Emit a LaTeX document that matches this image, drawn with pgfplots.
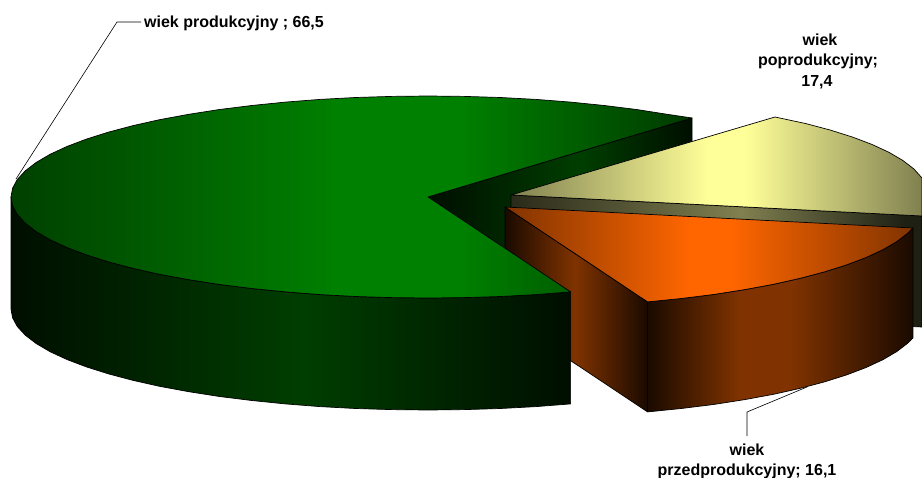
\documentclass[border=0pt]{standalone}
\usepackage{fontspec}
\setmainfont{Liberation Sans}
\usepackage{pgfplots}
\pgfplotsset{compat=1.18}
\definecolor{gA}{RGB}{0,64,0}
\definecolor{gB}{RGB}{0,128,0}
\definecolor{gC}{RGB}{0,58,0}
\definecolor{gD}{RGB}{0,14,0}
\definecolor{gE}{RGB}{0,62,0}
\definecolor{yA}{RGB}{128,128,80}
\definecolor{yB}{RGB}{255,255,153}
\definecolor{yC}{RGB}{42,42,26}
\definecolor{yD}{RGB}{30,32,20}
\definecolor{oA}{RGB}{128,51,0}
\definecolor{oB}{RGB}{255,102,0}
\definecolor{oC}{RGB}{26,10,0}
\pgfdeclarehorizontalshading{greentop}{100bp}{color(0bp)=(gA);color(25bp)=(gA);color(49bp)=(gB);color(58bp)=(gB);color(75bp)=(gC);color(100bp)=(gC)}
\pgfdeclarehorizontalshading{greenwall}{100bp}{color(0bp)=(gD);color(25bp)=(gD);color(51bp)=(gE);color(75bp)=(gD);color(100bp)=(gD)}
\pgfdeclarehorizontalshading{greeninner}{100bp}{color(0bp)=(gD);color(25bp)=(gD);color(54bp)=(gE);color(75bp)=(gD);color(100bp)=(gD)}
\pgfdeclarehorizontalshading{yellowtop}{100bp}{color(0bp)=(yA);color(25bp)=(yA);color(49bp)=(yB);color(53.5bp)=(yB);color(75bp)=(yA);color(100bp)=(yA)}
\pgfdeclarehorizontalshading{yellowwall}{100bp}{color(0bp)=(yC);color(25bp)=(yC);color(53bp)=(yA);color(73bp)=(yD);color(75bp)=(yD);color(100bp)=(yD)}
\pgfdeclarehorizontalshading{orangetop}{100bp}{color(0bp)=(oA);color(25bp)=(oA);color(47.7bp)=(oB);color(52.6bp)=(oB);color(75bp)=(oA);color(100bp)=(oA)}
\pgfdeclarehorizontalshading{orangewall}{100bp}{color(0bp)=(oC);color(25bp)=(oC);color(42.4bp)=(oA);color(51.8bp)=(oA);color(75bp)=(oC);color(100bp)=(oC)}
\pgfdeclarehorizontalshading{orangeinner}{100bp}{color(0bp)=(oC);color(25bp)=(oC);color(49.5bp)=(oA);color(75bp)=(oC);color(100bp)=(oC)}
\newcommand{\lab}[1]{\fontsize{16bp}{18bp}\selectfont\bfseries #1}
\begin{document}
\begin{tikzpicture}
\path[use as bounding box] (0,0) rectangle (922bp,478bp);
\begin{axis}[
  at={(0,0)},anchor=south west,
  width=922bp,height=478bp,scale only axis,hide axis,
  xmin=0,xmax=922,ymin=0,ymax=478,y dir=reverse,clip=true,
  every axis plot/.append style={line width=0.7bp,draw=black,no markers,line join=round},
]
% green slice, inner wall
\addplot[shade,shading=greeninner] coordinates {(428,197)(692,118)(692,230)(428,309)} -- cycle;
% yellow slice, 17.4
\addplot[shade,shading=yellowwall] coordinates {(511,195)(922,216)(922,327)(511,307)} -- cycle;
\addplot[shade,shading=yellowtop] coordinates {(511,195)(775,117)(805.9,123.6)(830.4,130.1)(852.6,137.1)(872.1,144.5)(888.9,152.3)(902.9,160.5)(913.8,168.9)(922,178)(922,216)} -- cycle;
% orange slice, 16.1
\addplot[shade,shading=orangeinner] coordinates {(505,207)(647.6,301.9)(647.6,411.9)(505,317)} -- cycle;
\addplot[shade,shading=orangewall] coordinates {(912.9,228)(907.8,233.1)(896.9,241.5)(882.9,249.7)(866.1,257.5)(846.6,264.9)(824.4,271.9)(799.9,278.4)(773,284.4)(744.2,289.7)(713.5,294.5)(681.2,298.5)(647.6,301.9)
 (647.6,411.9)(681.2,408.5)(713.5,404.5)(744.2,399.7)(773,394.4)(799.9,388.4)(824.4,381.9)(846.6,374.9)(866.1,367.5)(882.9,359.7)(896.9,351.5)(907.8,343.1)(912.9,338)} -- cycle;
\addplot[shade,shading=orangetop] coordinates {(505,207)(912.9,228)(907.8,233.1)(896.9,241.5)(882.9,249.7)(866.1,257.5)(846.6,264.9)(824.4,271.9)(799.9,278.4)(773,284.4)(744.2,289.7)(713.5,294.5)(681.2,298.5)(647.6,301.9)} -- cycle;
% green slice, 66.5
\addplot[shade,shading=greenwall] coordinates {(11,197)(12.6,205.8)(17.3,214.5)(25.2,223.1)(36.1,231.5)(50.1,239.7)(66.9,247.5)(86.4,254.9)(108.6,261.9)(133.1,268.4)(160,274.4)(188.8,279.7)(219.5,284.5)(251.8,288.5)(285.4,291.9)(320.1,294.6)(355.6,296.5)(391.6,297.6)(428,298)(464.4,297.6)(500.4,296.5)(535.9,294.6)(570.6,291.9)
 (570.6,403.9)(535.9,406.6)(500.4,408.5)(464.4,409.6)(428,410)(391.6,409.6)(355.6,408.5)(320.1,406.6)(285.4,403.9)(251.8,400.5)(219.5,396.5)(188.8,391.7)(160,386.4)(133.1,380.4)(108.6,373.9)(86.4,366.9)(66.9,359.5)(50.1,351.7)(36.1,343.5)(25.2,335.1)(17.3,326.5)(12.6,317.8)(11,309)} -- cycle;
\addplot[shade,shading=greentop] coordinates {(428,197)(692,118)(667.2,114.3)(636.5,109.5)(604.2,105.5)(570.6,102.1)(535.9,99.4)(500.4,97.5)(464.4,96.4)(428,96)(391.6,96.4)(355.6,97.5)(320.1,99.4)(285.4,102.1)(251.8,105.5)(219.5,109.5)(188.8,114.3)(160,119.6)(133.1,125.6)(108.6,132.1)(86.4,139.1)(66.9,146.5)(50.1,154.3)(36.1,162.5)(25.2,170.9)(17.3,179.5)(12.6,188.2)(11,197)(12.6,205.8)(17.3,214.5)(25.2,223.1)(36.1,231.5)(50.1,239.7)(66.9,247.5)(86.4,254.9)(108.6,261.9)(133.1,268.4)(160,274.4)(188.8,279.7)(219.5,284.5)(251.8,288.5)(285.4,291.9)(320.1,294.6)(355.6,296.5)(391.6,297.6)(428,298)(464.4,297.6)(500.4,296.5)(535.9,294.6)(570.6,291.9)} -- cycle;
% leader lines
\addplot[line width=0.6bp] coordinates {(16,179)(117,22)(141,22)};
\addplot[line width=0.6bp] coordinates {(807,387)(747,412)(747,436)};
% labels
\node[anchor=west,inner sep=0pt] at (axis cs:144,23) {\lab{wiek produkcyjny ; 66,5}};
\node[inner sep=0pt] at (axis cs:820,40) {\lab{wiek}};
\node[inner sep=0pt] at (axis cs:818,61) {\lab{poprodukcyjny;}};
\node[inner sep=0pt] at (axis cs:817,82) {\lab{17,4}};
\node[inner sep=0pt] at (axis cs:747,450) {\lab{wiek}};
\node[inner sep=0pt] at (axis cs:747,471) {\lab{przedprodukcyjny; 16,1}};
\end{axis}
\end{tikzpicture}
\end{document}
